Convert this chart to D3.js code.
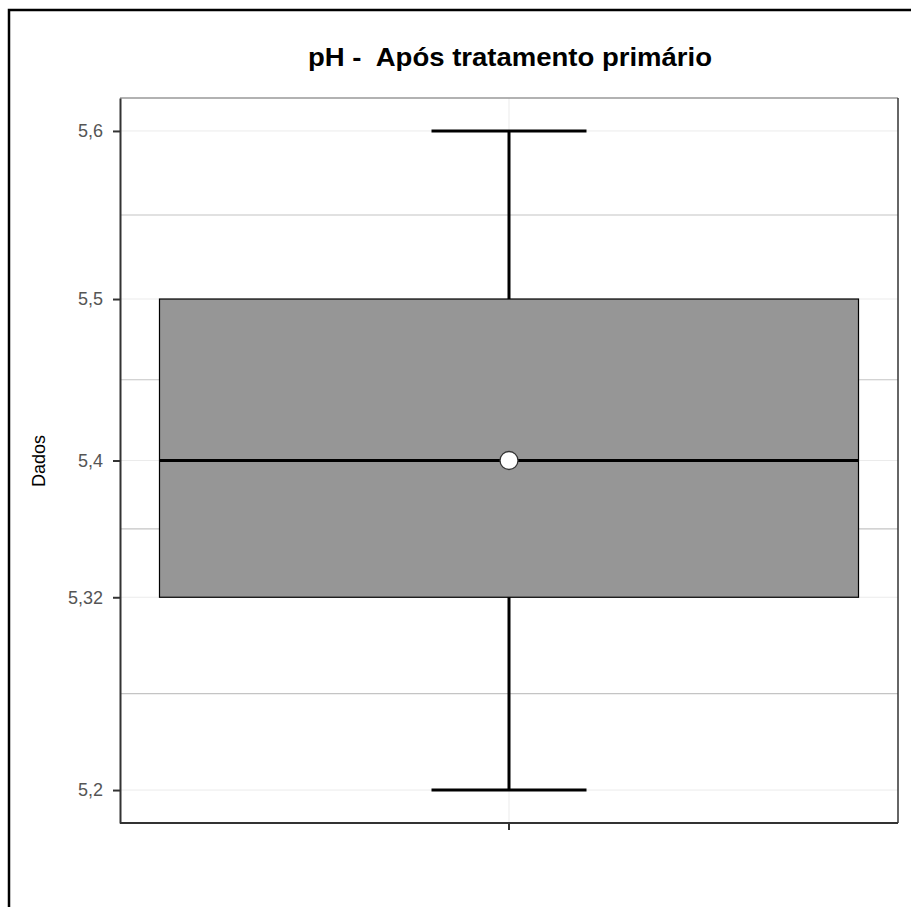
<!DOCTYPE html>
<html>
<head>
<meta charset="utf-8">
<script src="https://cdn.jsdelivr.net/npm/d3@7"></script>
<style>
  body { margin: 0; background: #fff; }
  svg { display: block; font-family: "Liberation Sans", Arial, sans-serif; }
</style>
</head>
<body>
<svg id="chart" width="911" height="907"></svg>
<script>
// box plot data (pH after primary treatment)
const categories = ["pH"];
const stats = { min: 5.2, q1: 5.317, median: 5.4, q3: 5.498, max: 5.6, mean: 5.4 };
const tickValues = [5.2, 5.317, 5.4, 5.498, 5.6];
const tickLabels = ["5,2", "5,32", "5,4", "5,5", "5,6"];
const yDomain = [5.18, 5.62];

const svg = d3.select("#chart");
const panel = { left: 120, right: 898, top: 98, bottom: 823 };

// outer frame (left + top only, as cut in the picture)
svg.append("path")
    .attr("d", `M9,907 V10 H911`)
    .attr("fill", "none")
    .attr("stroke", "#000")
    .attr("stroke-width", 2.5);

const y = d3.scaleLinear().domain(yDomain).range([panel.bottom, panel.top]);
const x = d3.scaleBand().domain(categories).range([panel.left, panel.right])
    .paddingInner(0).paddingOuter(0.0565);
const cx = x(categories[0]) + x.bandwidth() / 2;

// minor grid = midpoints between breaks
const minor = d3.pairs(tickValues).map(([a, b]) => (a + b) / 2);

const grid = svg.append("g");
grid.selectAll("line.major")
    .data(tickValues)
    .join("line")
    .attr("x1", panel.left).attr("x2", panel.right)
    .attr("y1", d => y(d)).attr("y2", d => y(d))
    .attr("stroke", "#ebebeb").attr("stroke-width", 1);
grid.selectAll("line.minor")
    .data(minor)
    .join("line")
    .attr("x1", panel.left).attr("x2", panel.right)
    .attr("y1", d => y(d)).attr("y2", d => y(d))
    .attr("stroke", "#c4c4c4").attr("stroke-width", 1.2);
grid.append("line")
    .attr("x1", cx).attr("x2", cx)
    .attr("y1", panel.top).attr("y2", panel.bottom)
    .attr("stroke", "#ebebeb").attr("stroke-width", 1);

// whisker
svg.append("line")
    .attr("x1", cx).attr("x2", cx)
    .attr("y1", y(stats.min)).attr("y2", y(stats.max))
    .attr("stroke", "#000").attr("stroke-width", 3);

const capHalf = 77.5;
svg.selectAll("line.cap")
    .data([stats.min, stats.max])
    .join("line")
    .attr("x1", cx - capHalf).attr("x2", cx + capHalf)
    .attr("y1", d => y(d)).attr("y2", d => y(d))
    .attr("stroke", "#000").attr("stroke-width", 3);

// box
svg.append("rect")
    .attr("x", x(categories[0]))
    .attr("width", x.bandwidth())
    .attr("y", y(stats.q3))
    .attr("height", y(stats.q1) - y(stats.q3))
    .attr("fill", "#969696")
    .attr("stroke", "#000")
    .attr("stroke-width", 1.2);

svg.append("line")
    .attr("x1", x(categories[0])).attr("x2", x(categories[0]) + x.bandwidth())
    .attr("y1", y(stats.median)).attr("y2", y(stats.median))
    .attr("stroke", "#000").attr("stroke-width", 3);

svg.append("circle")
    .attr("cx", cx).attr("cy", y(stats.mean))
    .attr("r", 9)
    .attr("fill", "#fff")
    .attr("stroke", "#333")
    .attr("stroke-width", 1.3);

// panel border
svg.append("line").attr("x1", panel.left).attr("x2", panel.right)
    .attr("y1", panel.top).attr("y2", panel.top)
    .attr("stroke", "#999").attr("stroke-width", 1.5);
svg.append("line").attr("x1", panel.right).attr("x2", panel.right)
    .attr("y1", panel.top).attr("y2", panel.bottom)
    .attr("stroke", "#333").attr("stroke-width", 1.5);

// axes
const yAxis = svg.append("g")
    .attr("transform", `translate(${panel.left},0)`)
    .call(d3.axisLeft(y).tickValues(tickValues)
        .tickFormat((d, i) => tickLabels[i]).tickSize(7).tickPadding(10).tickSizeOuter(0));
yAxis.select(".domain").attr("stroke", "#333").attr("stroke-width", 2);
yAxis.selectAll(".tick line").attr("stroke", "#333").attr("stroke-width", 2);
yAxis.selectAll(".tick text").attr("fill", "#555").style("font-size", "18px")
    .style("font-family", "Liberation Sans, Arial, sans-serif");

const xAxis = svg.append("g")
    .attr("transform", `translate(0,${panel.bottom})`)
    .call(d3.axisBottom(x).tickSize(7).tickSizeOuter(0).tickFormat(() => ""));
xAxis.select(".domain").attr("stroke", "#333").attr("stroke-width", 2)
    .attr("d", `M${panel.left},0H${panel.right}`);
xAxis.selectAll(".tick line").attr("stroke", "#333").attr("stroke-width", 2);

// titles
svg.append("text")
    .attr("x", 510).attr("y", 66)
    .attr("text-anchor", "middle")
    .attr("textLength", 404)
    .attr("lengthAdjust", "spacingAndGlyphs")
    .style("font-size", "25px").style("font-weight", "bold")
    .style("white-space", "pre")
    .text("pH -  Após tratamento primário");

svg.append("text")
    .attr("transform", "translate(45,461) rotate(-90)")
    .attr("text-anchor", "middle")
    .style("font-size", "18px")
    .text("Dados");
</script>
</body>
</html>
